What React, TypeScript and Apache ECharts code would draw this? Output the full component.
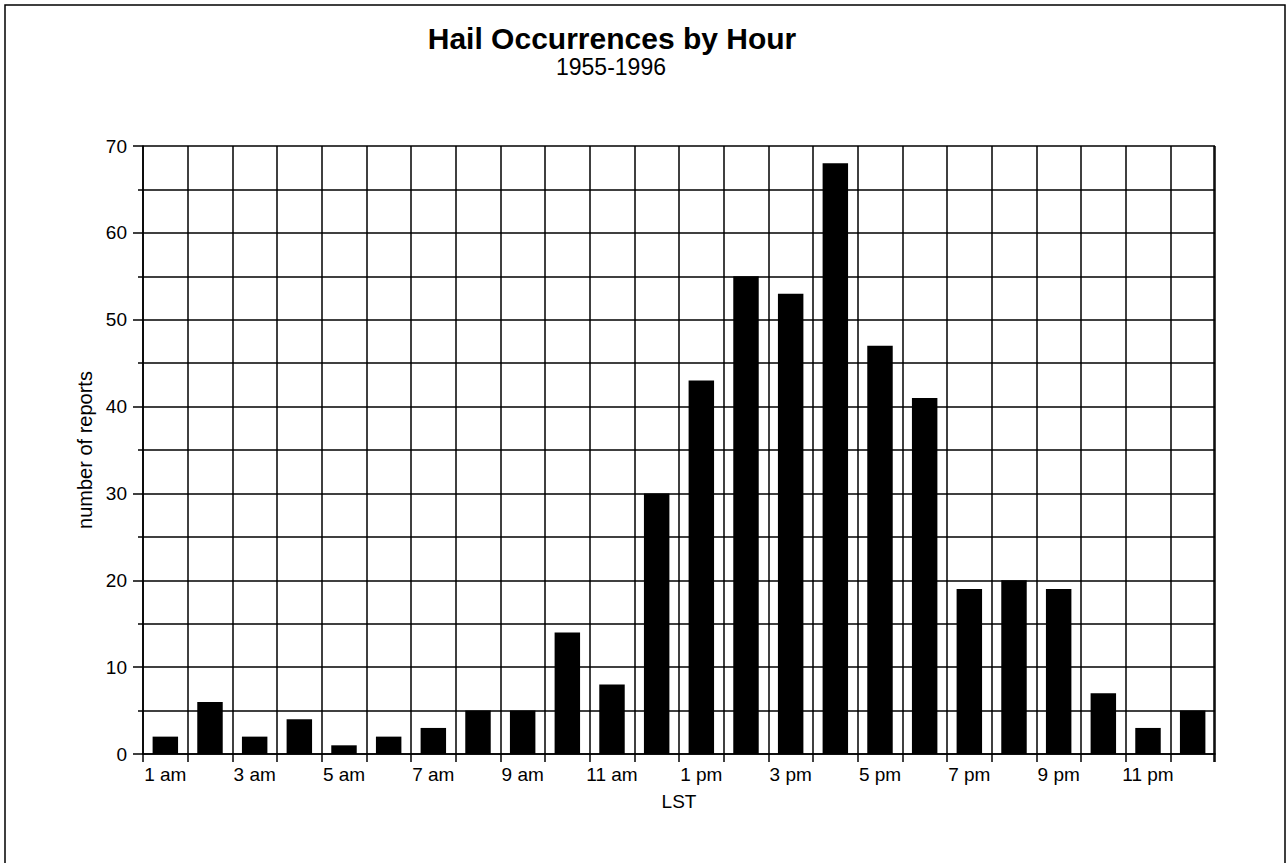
import React, { useEffect, useRef } from "react";
import * as echarts from "echarts";

const hours = [
  "1 am", "2 am", "3 am", "4 am", "5 am", "6 am", "7 am", "8 am", "9 am", "10 am", "11 am", "12 pm",
  "1 pm", "2 pm", "3 pm", "4 pm", "5 pm", "6 pm", "7 pm", "8 pm", "9 pm", "10 pm", "11 pm", "12 am",
];
const reports = [2, 6, 2, 4, 1, 2, 3, 5, 5, 14, 8, 30, 43, 55, 53, 68, 47, 41, 19, 20, 19, 7, 3, 5];

const FONT = "'Liberation Sans', Arial, Helvetica, sans-serif";

export default function App() {
  const ref = useRef<HTMLDivElement>(null);
  useEffect(() => {
    if (!ref.current) return;
    const chart = echarts.init(ref.current, null, { renderer: "svg" });
    chart.setOption({
      animation: false,
      backgroundColor: "#ffffff",
      title: [
        {
          text: "Hail Occurrences by Hour",
          left: 612,
          textAlign: "center",
          top: 23,
          padding: 0,
          textStyle: { fontFamily: FONT, fontSize: 30, fontWeight: "bold", color: "#000", lineHeight: 30 },
        },
        {
          text: "1955-1996",
          left: 611,
          textAlign: "center",
          top: 55,
          padding: 0,
          textStyle: { fontFamily: FONT, fontSize: 23, fontWeight: "normal", color: "#000", lineHeight: 23 },
        },
      ],
      grid: { left: 143, right: 72, top: 146, bottom: 109, containLabel: false },
      xAxis: {
        type: "category",
        data: hours,
        boundaryGap: true,
        name: "LST",
        nameLocation: "middle",
        nameGap: 38,
        nameTextStyle: { fontFamily: FONT, fontSize: 19, color: "#000" },
        axisLine: { show: true, lineStyle: { color: "#000", width: 1.6 } },
        axisTick: { show: true, interval: 0, length: 8, lineStyle: { color: "#000", width: 1.5 } },
        axisLabel: { interval: 1, fontFamily: FONT, fontSize: 19, color: "#000", margin: 11 },
        splitLine: { show: true, interval: 0, lineStyle: { color: "#000", width: 1.5 } },
      },
      yAxis: {
        type: "value",
        min: 0,
        max: 70,
        interval: 10,
        name: "number of reports",
        nameLocation: "middle",
        nameRotate: 90,
        nameGap: 46,
        nameTextStyle: { fontFamily: FONT, fontSize: 20, color: "#000" },
        axisLine: { show: true, lineStyle: { color: "#000", width: 1.6 } },
        axisTick: { show: true, length: 10, lineStyle: { color: "#000", width: 1.5 } },
        minorTick: { show: true, splitNumber: 2, length: 5, lineStyle: { color: "#000", width: 1.5 } },
        axisLabel: { fontFamily: FONT, fontSize: 19, color: "#000", margin: 16 },
        splitLine: { show: true, lineStyle: { color: "#000", width: 1.5 } },
        minorSplitLine: { show: true, lineStyle: { color: "#000", width: 1.5 } },
      },
      series: [
        {
          type: "bar",
          data: reports,
          barWidth: "57%",
          itemStyle: { color: "#000" },
          z: 3,
        },
      ],
      graphic: [
        {
          type: "rect",
          shape: { x: 5, y: 5, width: 1280, height: 870 },
          style: { fill: "none", stroke: "#000", lineWidth: 1.5 },
          silent: true,
        },
        {
          type: "line",
          shape: { x1: 1214, y1: 146, x2: 1214, y2: 762 },
          style: { stroke: "#000", lineWidth: 1.5 },
          silent: true,
        },
      ],
    });
    return () => chart.dispose();
  }, []);
  return (
    <div
      ref={ref}
      style={{ position: "fixed", left: 0, top: 0, width: 1287, height: 863, background: "#fff" }}
    />
  );
}
